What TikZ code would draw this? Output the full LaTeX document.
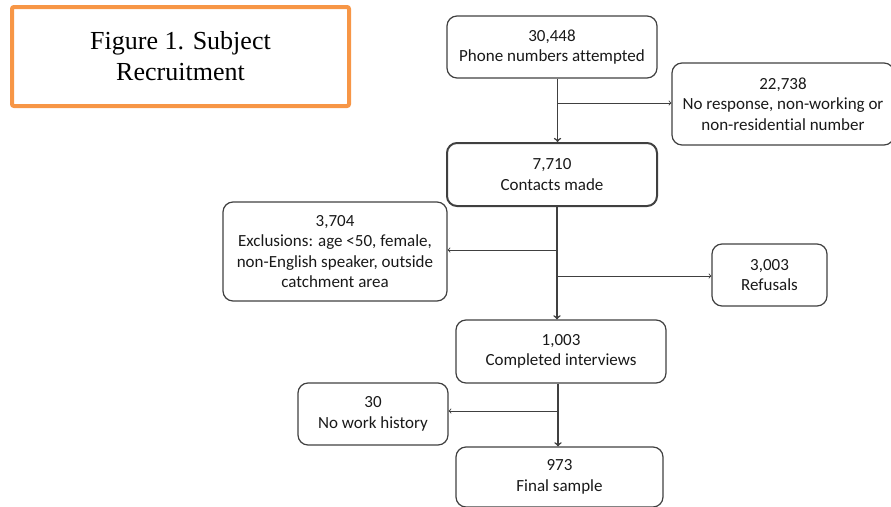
\documentclass[tikz,border=0pt]{standalone}
\usepackage{fontspec}
\setmainfont[Ligatures=NoCommon]{Carlito}
\newfontfamily\titlefont{Liberation Serif}
\usepackage{xcolor}
\usetikzlibrary{shapes,arrows,positioning,calc}

\definecolor{boxline}{HTML}{404040}
\definecolor{figorange}{HTML}{F79646}

\tikzset{
  box/.style={rectangle, rounded corners=10pt, draw=boxline, line width=1.2pt,
    align=center, inner sep=2pt, text=black!90,
    font=\fontsize{17}{20.5}\selectfont},
  trunk/.style={->, >=to, draw=boxline, line width=1.6pt},
  side/.style={->, >=to, draw=boxline, line width=0.9pt}
}

\begin{document}
\begin{tikzpicture}[x=1pt, y=-1pt]
        \useasboundingbox (0,0) rectangle (891,506);
        \clip (0,0) rectangle (891,506);

        % Title
        \node[rectangle, rounded corners=2pt, draw=figorange, line width=4pt, minimum width=337pt, minimum height=99pt,
          align=center, font=\titlefont\fontsize{26}{31}\selectfont] (title) at (180.5,56.5)
          {\raisebox{-3pt}{Figure 1. Subject}\\\raisebox{-3pt}{Recruitment}};

        % Nodes
        \node[box, minimum width=210pt, minimum height=62pt] (phone) at (552,47) {30,448\\Phone numbers attempted};
        \node[box, minimum width=222pt, minimum height=82pt] (noresp) at (783,104) {22,738\\No response, non-working or\\non-residential number};
        \node[box, line width=2pt, minimum width=210pt, minimum height=63pt] (contacts) at (552,174.5) {7,710\\Contacts made};
        \node[box, minimum width=224pt, minimum height=99pt] (excl) at (335,251.5) {3,704\\Exclusions: age <50, female,\\non-English speaker, outside\\catchment area};
        \node[box, minimum width=115pt, minimum height=62pt] (refusals) at (769.5,275) {3,003\\Refusals};
        \node[box, minimum width=210pt, minimum height=63pt] (interviews) at (561,351.5) {1,003\\Completed interviews};
        \node[box, minimum width=150pt, minimum height=62pt] (nowork) at (373,414) {30\\No work history};
        \node[box, minimum width=207pt, minimum height=60pt] (final) at (559.5,477) {973\\Final sample};

        % Branch points
        \coordinate (b1) at (557.5,103);
        \coordinate (b2) at (557,250);
        \coordinate (b3) at (557,276);
        \coordinate (b4) at (558,411);

        % Edges
        \draw[trunk] (phone.south -| b1) -- (contacts.north -| b1);
        \draw[side] (b1) -- (noresp.west |- b1);
        \draw[trunk] (contacts.south -| b2) -- (interviews.north -| b2);
        \draw[side] (b2) -- (excl.east |- b2);
        \draw[side] (b3) -- (refusals.west |- b3);
        \draw[trunk] (interviews.south -| b4) -- (final.north -| b4);
        \draw[side] (b4) -- (nowork.east |- b4);
    \end{tikzpicture}
\end{document}
